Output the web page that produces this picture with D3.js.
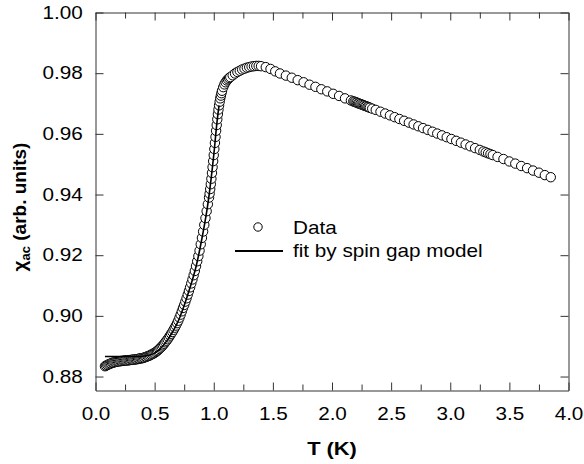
<!DOCTYPE html>
<html>
<head>
<meta charset="utf-8">
<script src="https://cdn.jsdelivr.net/npm/d3@7"></script>
<style>
  body { margin: 0; background: #fff; }
  svg text { font-family: "Liberation Sans", Arial, sans-serif; fill: #000; }
</style>
</head>
<body>
<div id="chart"></div>
<script>

var tempK = [
  0.08,0.09,0.10,0.11,0.12,0.13,0.14,0.15,0.16,0.17,
  0.18,0.19,0.20,0.21,0.22,0.23,0.24,0.25,0.26,0.27,
  0.28,0.29,0.30,0.31,0.32,0.33,0.34,0.35,0.36,0.37,
  0.38,0.39,0.40,0.41,0.42,0.43,0.44,0.45,0.46,0.47,
  0.48,0.49,0.50,0.51,0.52,0.53,0.54,0.55,0.56,0.57,
  0.58,0.59,0.60,0.61,0.62,0.63,0.64,0.65,0.66,0.67,
  0.68,0.69,0.70,0.71,0.72,0.73,0.74,0.75,0.76,0.77,
  0.78,0.79,0.80,0.81,0.82,0.83,0.84,0.85,0.86,0.87,
  0.88,0.89,0.90,0.91,0.92,0.93,0.94,0.95,0.96,0.965,
  0.97,0.975,0.98,0.985,0.99,0.995,1.00,1.005,1.01,1.015,
  1.02,1.025,1.03,1.035,1.04,1.045,1.05,1.055,1.06,1.065,
  1.07,1.08,1.09,1.10,1.11,1.12,1.13,1.14,1.16,1.18,
  1.20,1.22,1.24,1.26,1.28,1.30,1.32,1.34,1.36,1.38,
  1.40,1.44,1.48,1.52,1.56,1.61,1.66,1.71,1.76,1.81,
  1.86,1.91,1.96,2.01,2.06,2.11,2.16,2.18,2.19,2.20,
  2.21,2.22,2.23,2.24,2.25,2.26,2.27,2.28,2.29,2.30,
  2.31,2.32,2.34,2.37,2.41,2.45,2.49,2.53,2.57,2.61,
  2.65,2.69,2.73,2.77,2.81,2.85,2.89,2.93,2.97,3.01,
  3.05,3.09,3.13,3.17,3.21,3.25,3.28,3.30,3.32,3.34,
  3.36,3.40,3.45,3.50,3.55,3.60,3.65,3.70,3.75,3.80,
  3.85
];
var chiAC = [
  .8834,.8836,.8838,.8840,.8842,.8843,.8845,.8846,.8847,.8848,
  .8849,.8850,.8850,.8851,.8851,.8852,.8852,.8853,.8853,.8853,
  .8854,.8854,.8855,.8855,.8856,.8856,.8857,.8857,.8858,.8859,
  .8860,.8860,.8861,.8862,.8864,.8865,.8867,.8868,.8870,.8872,
  .8874,.8876,.8878,.8881,.8884,.8887,.8891,.8895,.8899,.8903,
  .8908,.8913,.8918,.8923,.8929,.8935,.8941,.8947,.8954,.8961,
  .8968,.8976,.8984,.8994,.9004,.9015,.9026,.9036,.9047,.9058,
  .9070,.9082,.9094,.9107,.9120,.9134,.9148,.9164,.9180,.9197,
  .9215,.9236,.9257,.9278,.9300,.9322,.9345,.9368,.9390,.9403,
  .9418,.9434,.9452,.9471,.9490,.9510,.9530,.9550,.9570,.9590,
  .9610,.9629,.9648,.9665,.9680,.9694,.9706,.9717,.9726,.9734,
  .9742,.9754,.9763,.9770,.9776,.9780,.9784,.9787,.9793,.9799,
  .9804,.9808,.9812,.9815,.9818,.9820,.9822,.9823,.9824,.9824,
  .9823,.9820,.9814,.9806,.9799,.9792,.9785,.9777,.9770,.9762,
  .9755,.9747,.9740,.9732,.9725,.9717,.9710,.9707,.9706,.9704,
  .9703,.9701,.9700,.9698,.9697,.9695,.9694,.9692,.9691,.9689,
  .9688,.9686,.9683,.9679,.9673,.9667,.9661,.9655,.9649,.9643,
  .9637,.9631,.9625,.9619,.9613,.9607,.9601,.9595,.9589,.9583,
  .9577,.9571,.9565,.9559,.9553,.9547,.9542,.9539,.9536,.9533,
  .9530,.9524,.9517,.9509,.9502,.9494,.9487,.9479,.9472,.9464,
  .9457
];

// spin gap model fit (low temperature side)
var fitT   = [0.08, 0.15, 0.25, 0.35, 0.40, 0.45, 0.50, 0.55, 0.60, 0.65, 0.70, 0.75, 0.80, 0.85, 0.90, 0.95, 1.00, 1.03, 1.045];
var fitChi = [.8866, .8866, .8866, .8866, .8867, .8870, .8877, .8893, .8916, .8946, .8983, .9034, .9094, .9162, .9255, .9368, .9530, .9648, .9694];

var xMajor = [0, 0.5, 1.0, 1.5, 2.0, 2.5, 3.0, 3.5, 4.0];
var xMinor = [0.25, 0.75, 1.25, 1.75, 2.25, 2.75, 3.25, 3.75];
var yMajor = [0.88, 0.90, 0.92, 0.94, 0.96, 0.98, 1.00];

var svg_width = 584;
var svg_height = 464;
var plotLeft = 95.5, plotRight = 568.5, plotTop = 12.5, plotBottom = 390.5;
var stretch = 'scale(1.15,1)'; // the source text runs a bit wide

var x = d3.scaleLinear().domain([0, 4]).range([plotLeft, plotRight]);
var y = d3.scaleLinear().domain([0.8754, 1.0]).range([plotBottom, plotTop]);

var svg = d3.select('#chart')
            .append('svg')
            .attr('width', svg_width)
            .attr('height', svg_height);

function styleAxis(g) {
  g.selectAll('path.domain').attr('stroke', '#333').attr('stroke-width', 1);
  g.selectAll('.tick line').attr('stroke', '#333').attr('stroke-width', 1);
  g.selectAll('.tick text')
    .attr('font-family', '"Liberation Sans", Arial, sans-serif')
    .attr('font-size', 18)
    .attr('fill', '#000')
    .attr('transform', stretch);
}

// bottom and top
svg.append('g')
   .attr('transform', 'translate(0,' + plotBottom + ')')
   .call(d3.axisBottom(x).tickValues(xMajor).tickFormat(d3.format('.1f'))
           .tickSizeInner(-8).tickSizeOuter(0).tickPadding(17))
   .call(styleAxis);
svg.append('g')
   .attr('transform', 'translate(0,' + plotBottom + ')')
   .call(d3.axisBottom(x).tickValues(xMinor).tickFormat('').tickSizeInner(-6).tickSizeOuter(0))
   .call(function(g) { g.select('.domain').remove(); })
   .call(styleAxis);
svg.append('g')
   .attr('transform', 'translate(0,' + plotTop + ')')
   .call(d3.axisTop(x).tickValues(xMajor).tickFormat('').tickSizeInner(-8).tickSizeOuter(0))
   .call(styleAxis);
svg.append('g')
   .attr('transform', 'translate(0,' + plotTop + ')')
   .call(d3.axisTop(x).tickValues(xMinor).tickFormat('').tickSizeInner(-6).tickSizeOuter(0))
   .call(function(g) { g.select('.domain').remove(); })
   .call(styleAxis);

// left and right
svg.append('g')
   .attr('transform', 'translate(' + plotLeft + ',0)')
   .call(d3.axisLeft(y).tickValues(yMajor).tickFormat(d3.format('.2f'))
           .tickSizeInner(-8).tickSizeOuter(0).tickPadding(11))
   .call(styleAxis);
svg.append('g')
   .attr('transform', 'translate(' + plotRight + ',0)')
   .call(d3.axisRight(y).tickValues(yMajor).tickFormat('').tickSizeInner(-8).tickSizeOuter(0))
   .call(styleAxis);

// data points
var pts = tempK.map(function(t, i) { return {t: t, chi: chiAC[i]}; });
svg.append('g')
   .selectAll('circle')
   .data(pts)
   .enter()
     .append('circle')
     .attr('cx', function(d) { return x(d.t); })
     .attr('cy', function(d) { return y(d.chi); })
     .attr('r', 4.7)
     .attr('fill', '#fff')
     .attr('stroke', '#000')
     .attr('stroke-width', 1);

// fit line
var fitPts = fitT.map(function(t, i) { return [t, fitChi[i]]; });
svg.append('path')
   .datum(fitPts)
   .attr('fill', 'none')
   .attr('stroke', '#000')
   .attr('stroke-width', 1.6)
   .attr('d', d3.line()
                .x(function(d) { return x(d[0]); })
                .y(function(d) { return y(d[1]); })
                .curve(d3.curveMonotoneX));

// legend
var legend = svg.append('g');
legend.append('circle')
      .attr('cx', 258).attr('cy', 227).attr('r', 4.2)
      .attr('fill', '#fff').attr('stroke', '#000').attr('stroke-width', 1);
legend.append('line')
      .attr('x1', 235).attr('x2', 283).attr('y1', 251).attr('y2', 251)
      .attr('stroke', '#000').attr('stroke-width', 2);
legend.append('text')
      .attr('transform', 'translate(293,234) ' + stretch)
      .attr('font-size', 18)
      .text('Data');
legend.append('text')
      .attr('transform', 'translate(293,257) ' + stretch)
      .attr('font-size', 18)
      .text('fit by spin gap model');

// axis titles
svg.append('text')
   .attr('transform', 'translate(' + (plotLeft + plotRight) / 2 + ',455) ' + stretch)
   .attr('text-anchor', 'middle')
   .attr('font-size', 19)
   .attr('font-weight', 'bold')
   .text('T (K)');

var yTitle = svg.append('text')
   .attr('transform', 'translate(26,207) rotate(-90)')
   .attr('text-anchor', 'middle')
   .attr('font-size', 19)
   .attr('font-weight', 'bold');
yTitle.append('tspan').text('\u03C7');
yTitle.append('tspan').attr('font-size', 13).attr('dy', 4).text('ac');
yTitle.append('tspan').attr('dy', -4).text(' (arb. units)');

</script>
</body>
</html>
